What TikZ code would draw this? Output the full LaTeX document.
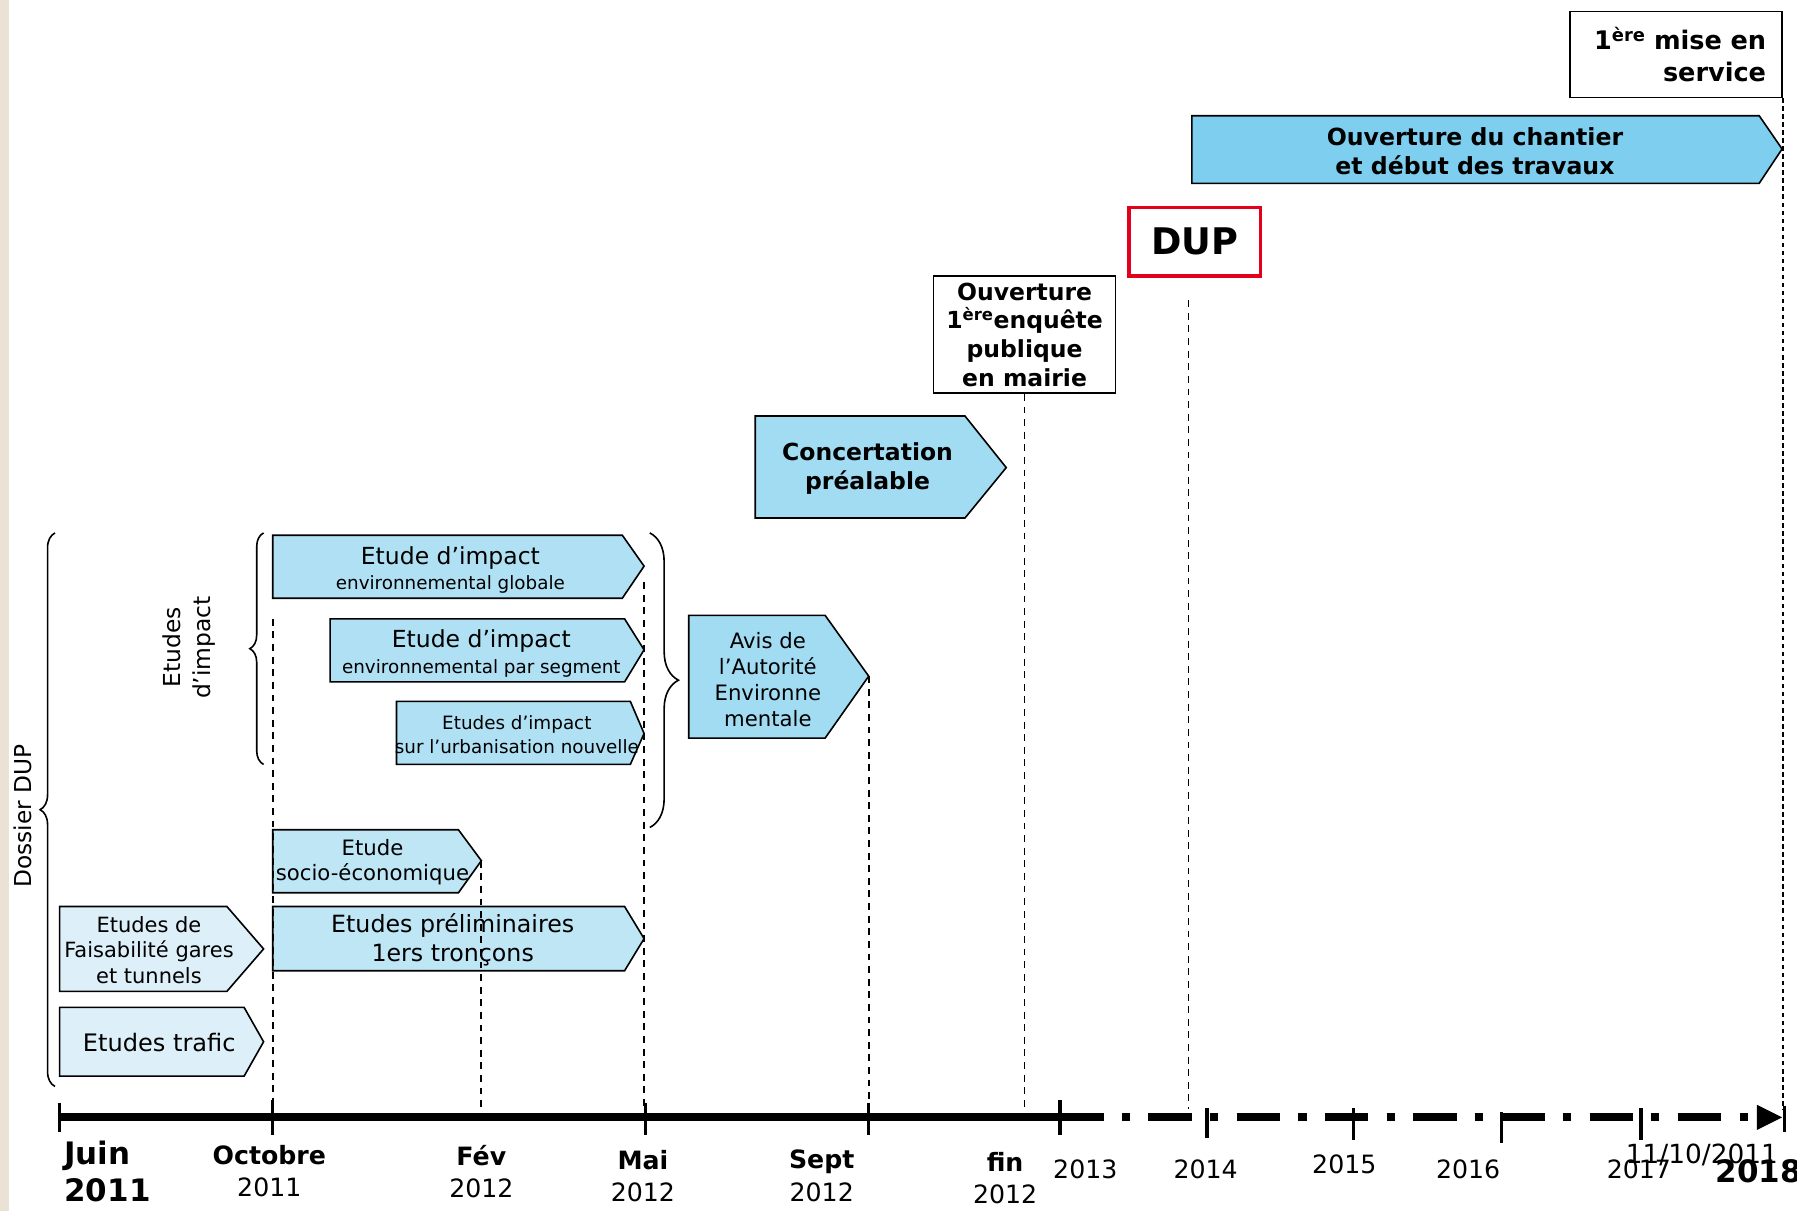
\documentclass[tikz,border=0pt]{standalone}
\usepackage{fontspec}
\setmainfont{DejaVu Sans}
\usetikzlibrary{decorations.pathreplacing}

\definecolor{stripbeige}{RGB}{234,226,213}
\definecolor{palestage}{RGB}{221,240,249}
\definecolor{lightstage}{RGB}{190,230,245}
\definecolor{impactstage}{RGB}{176,224,243}
\definecolor{midstage}{RGB}{162,220,242}
\definecolor{workstage}{RGB}{126,207,239}
\definecolor{dupred}{RGB}{226,0,26}

\begin{document}
\begin{tikzpicture}[x=1pt, y=-1pt,
  lbl/.style={align=center, inner sep=0pt},
  stageline/.style={draw=black, line width=1.4pt},
  guide/.style={line width=1.6pt, dash pattern=on 6pt off 5pt},
  fineguide/.style={line width=1.7pt, dash pattern=on 4pt off 3pt},
  tickmark/.style={line width=3pt},
  bigbrace/.style={decorate, decoration={brace, amplitude=#1}, line width=1.4pt},
  boxed/.style={draw=black, line width=1.4pt, inner sep=0pt, align=center}]

% page and beige strip
\useasboundingbox (0,0) rectangle (1568,1057);
\fill[stripbeige] (0,0) rectangle (8,1057);

% Stages (arrow boxes)
\draw[stageline, fill=palestage] (52,879) -- (213,879) -- (230,909) -- (213,939) -- (52,939) -- cycle;  % trafic
\draw[stageline, fill=palestage] (52,791) -- (198,791) -- (230,828) -- (198,865) -- (52,865) -- cycle;  % faisabilite
\draw[stageline, fill=lightstage] (238,791) -- (545,791) -- (562,819) -- (545,847) -- (238,847) -- cycle;  % preliminaires
\draw[stageline, fill=lightstage] (238,724) -- (400,724) -- (420,751) -- (400,779) -- (238,779) -- cycle;  % socio-eco
\draw[stageline, fill=impactstage] (238,467) -- (543,467) -- (562,494) -- (543,522) -- (238,522) -- cycle;  % impact globale
\draw[stageline, fill=impactstage] (288,540) -- (545,540) -- (562,567) -- (545,595) -- (288,595) -- cycle;  % impact segment
\draw[stageline, fill=impactstage] (346,612) -- (550,612) -- (562,640) -- (550,667) -- (346,667) -- cycle;  % urbanisation
\draw[stageline, fill=midstage] (601,537) -- (720,537) -- (758,590) -- (720,644) -- (601,644) -- cycle;  % avis AE
\draw[stageline, fill=midstage] (659,363) -- (842,363) -- (878,408) -- (842,452) -- (659,452) -- cycle;  % concertation
\draw[stageline, fill=workstage] (1040,101) -- (1535,101) -- (1555,130) -- (1535,160) -- (1040,160) -- cycle;  % travaux

\coordinate (socioTip) at (420,751);
\coordinate (avisTip) at (758,590);

% Labels inside the stages
\node[lbl, font=\fontsize{21}{25}\selectfont] (trafic) at (139,910) {Etudes trafic};
\node[lbl, font=\fontsize{18.3}{22.5}\selectfont] (faisab) at (130,829) {Etudes de\\Faisabilité gares\\et tunnels};
\node[lbl, font=\fontsize{20.7}{25.5}\selectfont] (prelim) at (395,820) {Etudes préliminaires\\1ers tronçons};
\node[lbl, font=\fontsize{18.5}{22}\selectfont] (socio) at (325,752) {Etude\\socio-économique};
\node[lbl, font=\fontsize{16}{22}\selectfont] (globale) at (393,497) {{\fontsize{20.5}{22}\selectfont Etude d’impact}\\environnemental globale};
\node[lbl, font=\fontsize{16}{23}\selectfont] (segment) at (420,570) {{\fontsize{20.5}{23}\selectfont Etude d’impact}\\environnemental par segment};
\node[lbl, font=\fontsize{16}{21}\selectfont] (urba) at (451,641) {Etudes d’impact\\sur l’urbanisation nouvelle};
\node[lbl, font=\fontsize{18.5}{22.5}\selectfont] (avis) at (670,593) {Avis de\\l’Autorité\\Environne\\mentale};
\node[lbl, font=\bfseries\fontsize{20.5}{25}\selectfont] (concert) at (757,409) {Concertation\\préalable};
\node[lbl, font=\bfseries\fontsize{20.6}{25}\selectfont] (travaux) at (1287,132) {Ouverture du chantier\\et début des travaux};

% Milestone boxes
\node[boxed, minimum width=159pt, minimum height=102pt, font=\bfseries\fontsize{20.5}{25}\selectfont] (enq) at (894,292) {Ouverture\\1\textsuperscript{ère}enquête\\publique\\en mairie};
\node[boxed, draw=dupred, line width=3pt, minimum width=115pt, minimum height=60pt, font=\bfseries\fontsize{32}{36}\selectfont] (dup) at (1042.5,211) {DUP};
\node[boxed, minimum width=185pt, minimum height=75pt, text width=157pt, align=right, font=\bfseries\fontsize{22.3}{28}\selectfont] (mes) at (1462.5,47.5) {1\textsuperscript{ère} mise en\\service};

% Braces
\draw[bigbrace=13pt] (48,948) -- (48,465);  % Dossier DUP
\draw[bigbrace=12pt] (230,667) -- (230,465);  % Etudes d'impact
\draw[bigbrace=25pt] (567,465) -- (567,722);  % vers avis AE
\node[lbl, rotate=90, font=\fontsize{20.3}{26}\selectfont] (dossier) at (20,712) {Dossier DUP};
\node[lbl, rotate=90, font=\fontsize{20.4}{26}\selectfont] (etimp) at (165,565) {Etudes\\d’impact};

% Guide lines down to the time axis
\coordinate (gEnd) at (0,968);
\coordinate (octTop) at (238,540);
\coordinate (maiTop) at (562,508);
\coordinate (dupTop) at (1037,262);
\draw[guide] (octTop) -- (octTop |- gEnd);
\draw[guide] (socioTip) -- (socioTip |- gEnd);
\draw[guide] (maiTop) -- (maiTop |- gEnd);
\draw[guide] (avisTip) -- (avisTip |- gEnd);
\draw[guide] (enq.south) -- (enq.south |- gEnd);
\draw[guide] (dupTop) -- (dupTop |- gEnd);
\draw[fineguide] (mes.south east) -- (mes.south east |- gEnd);

% Time axis
\coordinate (tJuin) at (52,975);
\coordinate (t2013) at (925,975);
\coordinate (tEnd) at (1533,975);
\draw[line width=7pt] (tJuin) -- (t2013);
\draw[line width=7pt, dash pattern=on 38pt off 16pt on 7pt off 16pt] (t2013) -- (tEnd);
\fill (1533,964) -- (1555,975) -- (1533,986) -- cycle;

% Ticks
\draw[tickmark] (52,962) -- (52,988);
\draw[tickmark] (238,960) -- (238,990);
\draw[tickmark] (563,962) -- (563,990);
\draw[tickmark] (758,962) -- (758,990);
\draw[tickmark] (925,960) -- (925,990);
\draw[tickmark] (1053,967) -- (1053,993);
\draw[tickmark] (1181,967) -- (1181,995);
\draw[tickmark] (1310,970) -- (1310,997);
\draw[tickmark] (1432,967) -- (1432,995);
\draw[tickmark] (1557,965) -- (1557,988);

% Dates
\node[lbl, align=left, anchor=west, font=\bfseries\fontsize{27}{32}\selectfont] (dJuin) at (56,1022) {Juin\\2011};
\node[lbl, font=\fontsize{22}{28}\selectfont] (dOct) at (235,1022) {\textbf{Octobre}\\2011};
\node[lbl, font=\fontsize{22}{28}\selectfont] (dFev) at (420,1022) {\textbf{Fév}\\2012};
\node[lbl, font=\fontsize{22}{28}\selectfont] (dMai) at (561,1026) {\textbf{Mai}\\2012};
\node[lbl, font=\fontsize{22}{28}\selectfont] (dSept) at (717,1026) {\textbf{Sept}\\2012};
\node[lbl, font=\fontsize{22}{28}\selectfont] (dFin) at (877,1028) {\textbf{fin}\\2012};
\node[lbl, font=\fontsize{22}{28}\selectfont] (d2013) at (947,1020) {2013};
\node[lbl, font=\fontsize{22}{28}\selectfont] (d2014) at (1052,1020) {2014};
\node[lbl, font=\fontsize{22}{28}\selectfont] (d2015) at (1173,1016) {2015};
\node[lbl, font=\fontsize{22}{28}\selectfont] (d2016) at (1281,1020) {2016};
\node[lbl, font=\fontsize{22}{28}\selectfont] (d2017) at (1430,1020) {2017};
\node[lbl, font=\fontsize{23}{28}\selectfont] (dMes) at (1485,1008) {11/10/2011};
\node[lbl, anchor=west, font=\bfseries\fontsize{27}{32}\selectfont] (d2018) at (1497,1022) {2018};

\end{tikzpicture}
\end{document}
